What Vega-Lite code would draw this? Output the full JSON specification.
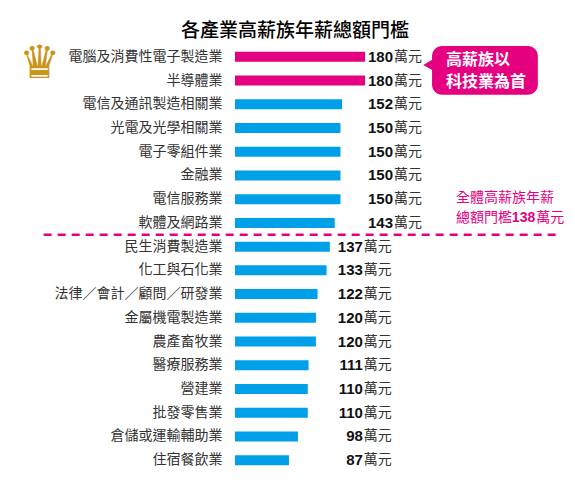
{
  "$schema": "https://vega.github.io/schema/vega-lite/v6.json",
  "width": 130,
  "height": 427,
  "autosize": "none",
  "padding": {"left": 235, "top": 45, "right": 210, "bottom": 13},
  "background": "white",
  "config": {
    "view": {"stroke": null},
    "font": "Noto Sans CJK TC",
    "text": {"font": "Noto Sans CJK TC"}
  },
  "title": {
    "text": "各產業高薪族年薪總額門檻",
    "font": "Noto Sans CJK TC",
    "fontSize": 19,
    "fontWeight": 500,
    "color": "#000",
    "anchor": "middle",
    "dx": -5,
    "offset": 0
  },
  "resolve": {"scale": {"y": "independent"}},
  "layer": [
    {
      "data": {
        "values": [
          {"industry": "電腦及消費性電子製造業", "value": 180, "lead": "yes", "tier": "above"},
          {"industry": "半導體業", "value": 180, "lead": "yes", "tier": "above"},
          {"industry": "電信及通訊製造相關業", "value": 152, "lead": "no", "tier": "above"},
          {"industry": "光電及光學相關業", "value": 150, "lead": "no", "tier": "above"},
          {"industry": "電子零組件業", "value": 150, "lead": "no", "tier": "above"},
          {"industry": "金融業", "value": 150, "lead": "no", "tier": "above"},
          {"industry": "電信服務業", "value": 150, "lead": "no", "tier": "above"},
          {"industry": "軟體及網路業", "value": 143, "lead": "no", "tier": "above"},
          {"industry": "民生消費製造業", "value": 137, "lead": "no", "tier": "below"},
          {"industry": "化工與石化業", "value": 133, "lead": "no", "tier": "below"},
          {"industry": "法律／會計／顧問／研發業", "value": 122, "lead": "no", "tier": "below"},
          {"industry": "金屬機電製造業", "value": 120, "lead": "no", "tier": "below"},
          {"industry": "農產畜牧業", "value": 120, "lead": "no", "tier": "below"},
          {"industry": "醫療服務業", "value": 111, "lead": "no", "tier": "below"},
          {"industry": "營建業", "value": 110, "lead": "no", "tier": "below"},
          {"industry": "批發零售業", "value": 110, "lead": "no", "tier": "below"},
          {"industry": "倉儲或運輸輔助業", "value": 98, "lead": "no", "tier": "below"},
          {"industry": "住宿餐飲業", "value": 87, "lead": "no", "tier": "below"}
        ]
      },
      "encoding": {
        "y": {
          "field": "industry",
          "type": "nominal",
          "sort": null,
          "scale": {"paddingInner": 0, "paddingOuter": 0},
          "axis": {
            "title": null,
            "domain": false,
            "ticks": false,
            "grid": false,
            "labelPadding": 13,
            "labelFont": "Noto Sans CJK TC",
            "labelFontSize": 14,
            "labelColor": "#333",
            "labelLimit": 300
          }
        }
      },
      "layer": [
        {
          "mark": {"type": "bar", "size": 10},
          "encoding": {
            "x": {"field": "value", "type": "quantitative", "scale": {"domain": [21, 180], "nice": false, "zero": false}, "axis": null},
            "x2": {"datum": 21},
            "color": {
              "field": "lead",
              "type": "nominal",
              "scale": {"domain": ["yes", "no"], "range": ["#E4007F", "#00A0E9"]},
              "legend": null
            }
          }
        },
        {
          "transform": [
            {"filter": "datum.tier === 'above'"},
            {"joinaggregate": [{"op": "max", "field": "value", "as": "gmax"}]}
          ],
          "mark": {"type": "text", "align": "right", "baseline": "middle", "dx": 28, "font": "Liberation Sans", "fontWeight": "bold", "fontSize": 15, "color": "#111"},
          "encoding": {
            "x": {"field": "gmax", "type": "quantitative", "scale": {"domain": [21, 180], "nice": false, "zero": false}},
            "text": {"field": "value"}
          }
        },
        {
          "transform": [
            {"filter": "datum.tier === 'above'"},
            {"joinaggregate": [{"op": "max", "field": "value", "as": "gmax"}]}
          ],
          "mark": {"type": "text", "align": "left", "baseline": "middle", "dx": 29, "fontSize": 14, "color": "#333"},
          "encoding": {
            "x": {"field": "gmax", "type": "quantitative", "scale": {"domain": [21, 180], "nice": false, "zero": false}},
            "text": {"value": "萬元"}
          }
        },
        {
          "transform": [
            {"filter": "datum.tier === 'below'"},
            {"joinaggregate": [{"op": "max", "field": "value", "as": "gmax"}]}
          ],
          "mark": {"type": "text", "align": "right", "baseline": "middle", "dx": 33, "font": "Liberation Sans", "fontWeight": "bold", "fontSize": 15, "color": "#111"},
          "encoding": {
            "x": {"field": "gmax", "type": "quantitative", "scale": {"domain": [21, 180], "nice": false, "zero": false}},
            "text": {"field": "value"}
          }
        },
        {
          "transform": [
            {"filter": "datum.tier === 'below'"},
            {"joinaggregate": [{"op": "max", "field": "value", "as": "gmax"}]}
          ],
          "mark": {"type": "text", "align": "left", "baseline": "middle", "dx": 34, "fontSize": 14, "color": "#333"},
          "encoding": {
            "x": {"field": "gmax", "type": "quantitative", "scale": {"domain": [21, 180], "nice": false, "zero": false}},
            "text": {"value": "萬元"}
          }
        }
      ]
    },
    {
      "data": {"values": [{}]},
      "layer": [
        {
          "mark": {"type": "text", "align": "center", "baseline": "middle", "font": "DejaVu Sans", "fontSize": 46, "color": "#C9961A"},
          "encoding": {
            "x": {"datum": -218, "type": "quantitative", "scale": {"domain": [21, 180], "nice": false, "zero": false}},
            "y": {"datum": 0.8, "type": "quantitative", "scale": {"domain": [18, 0], "nice": false, "zero": false}, "axis": null},
            "text": {"value": "♛"}
          }
        },
        {
          "mark": {"type": "rect", "cornerRadius": 10, "color": "#E4007F"},
          "encoding": {
            "x": {"datum": 262, "type": "quantitative", "scale": {"domain": [21, 180], "nice": false, "zero": false}},
            "x2": {"datum": 391.4},
            "y": {"datum": 0.04, "type": "quantitative", "scale": {"domain": [18, 0], "nice": false, "zero": false}, "axis": null},
            "y2": {"datum": 2.1}
          }
        },
        {
          "mark": {"type": "point", "shape": "triangle-left", "filled": true, "opacity": 1, "size": 160, "color": "#E4007F"},
          "encoding": {
            "x": {"datum": 258, "type": "quantitative", "scale": {"domain": [21, 180], "nice": false, "zero": false}},
            "y": {"datum": 0.84, "type": "quantitative", "scale": {"domain": [18, 0], "nice": false, "zero": false}, "axis": null}
          }
        },
        {
          "mark": {"type": "text", "align": "left", "baseline": "middle", "fontSize": 16, "fontWeight": "bold", "lineHeight": 22, "color": "white"},
          "encoding": {
            "x": {"datum": 279, "type": "quantitative", "scale": {"domain": [21, 180], "nice": false, "zero": false}},
            "y": {"datum": 0.63, "type": "quantitative", "scale": {"domain": [18, 0], "nice": false, "zero": false}, "axis": null},
            "text": {"value": ["高薪族以", "科技業為首"]}
          }
        },
        {
          "mark": {"type": "rule", "strokeDash": [8, 6], "strokeWidth": 2.5, "color": "#E4007F"},
          "encoding": {
            "x": {"datum": -213, "type": "quantitative", "scale": {"domain": [21, 180], "nice": false, "zero": false}},
            "x2": {"datum": 420},
            "y": {"datum": 8.0, "type": "quantitative", "scale": {"domain": [18, 0], "nice": false, "zero": false}, "axis": null}
          }
        },
        {
          "mark": {"type": "text", "align": "left", "baseline": "middle", "fontSize": 14, "color": "#E4007F"},
          "encoding": {
            "x": {"datum": 291.2, "type": "quantitative", "scale": {"domain": [21, 180], "nice": false, "zero": false}},
            "y": {"datum": 6.43, "type": "quantitative", "scale": {"domain": [18, 0], "nice": false, "zero": false}, "axis": null},
            "text": {"value": "全體高薪族年薪"}
          }
        },
        {
          "mark": {"type": "text", "align": "left", "baseline": "middle", "fontSize": 14, "color": "#E4007F"},
          "encoding": {
            "x": {"datum": 291.2, "type": "quantitative", "scale": {"domain": [21, 180], "nice": false, "zero": false}},
            "y": {"datum": 7.29, "type": "quantitative", "scale": {"domain": [18, 0], "nice": false, "zero": false}, "axis": null},
            "text": {"value": "總額門檻"}
          }
        },
        {
          "mark": {"type": "text", "align": "left", "baseline": "middle", "font": "Liberation Sans", "fontWeight": "bold", "fontSize": 14, "color": "#E4007F"},
          "encoding": {
            "x": {"datum": 359.6, "type": "quantitative", "scale": {"domain": [21, 180], "nice": false, "zero": false}},
            "y": {"datum": 7.29, "type": "quantitative", "scale": {"domain": [18, 0], "nice": false, "zero": false}, "axis": null},
            "text": {"value": "138"}
          }
        },
        {
          "mark": {"type": "text", "align": "left", "baseline": "middle", "fontSize": 14, "color": "#E4007F"},
          "encoding": {
            "x": {"datum": 389.5, "type": "quantitative", "scale": {"domain": [21, 180], "nice": false, "zero": false}},
            "y": {"datum": 7.29, "type": "quantitative", "scale": {"domain": [18, 0], "nice": false, "zero": false}, "axis": null},
            "text": {"value": "萬元"}
          }
        }
      ]
    }
  ]
}
